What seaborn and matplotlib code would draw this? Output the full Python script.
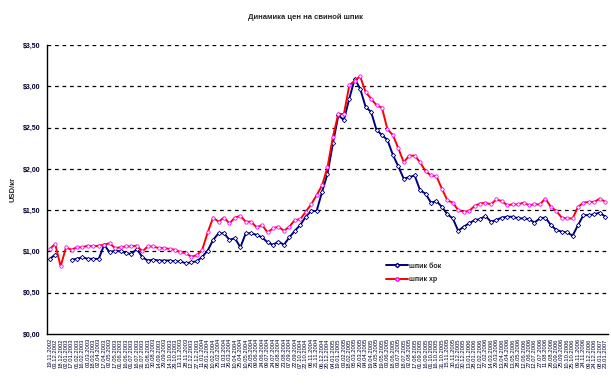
import numpy as np
import pandas as pd
import matplotlib
matplotlib.use("Agg")
import matplotlib.pyplot as plt
import seaborn as sns
from matplotlib.lines import Line2D

title = "Динамика цен на свиной шпик"
y_label = "USD/кг"
series_names = ["шпик бок", "шпик хр"]

bok = [0.91, 0.96, np.nan, np.nan, 0.90, 0.91, 0.93, 0.91, 0.91, 0.91,
       1.08, 0.99, 1.01, 1.00, 0.98, 0.97, 1.03, 0.93, 0.89, 0.90,
       0.89, 0.89, 0.89, 0.88, 0.88, 0.855, 0.87, 0.88, 0.935, 1.01,
       1.14, 1.22, 1.22, 1.14, 1.16, 1.05, 1.22, 1.22, 1.20, 1.17,
       1.11, 1.08, 1.12, 1.08, 1.17, 1.25, 1.32, 1.42, 1.49, 1.49,
       1.72, 1.94, 2.31, 2.65, 2.59, 2.85, 3.09, 2.97, 2.75, 2.69,
       2.47, 2.41, 2.35, 2.17, 2.03, 1.88, 1.90, 1.92, 1.74, 1.70,
       1.59, 1.61, 1.54, 1.45, 1.40, 1.25, 1.30, 1.34, 1.38, 1.39,
       1.43, 1.36, 1.38, 1.41, 1.42, 1.42, 1.40, 1.40, 1.39, 1.35,
       1.40, 1.41, 1.32, 1.26, 1.24, 1.23, 1.19, 1.32, 1.44, 1.44,
       1.45, 1.47, 1.42]

khr = [1.03, 1.09, 0.82, 1.05, 1.02, 1.05, 1.05, 1.07, 1.06, 1.07,
       1.08, 1.10, 1.04, 1.05, 1.06, 1.06, 1.07, 1.00, 1.06, 1.06,
       1.04, 1.04, 1.03, 1.02, 0.99, 0.98, 0.935, 0.955, 1.02, 1.23,
       1.41, 1.36, 1.41, 1.34, 1.41, 1.43, 1.36, 1.36, 1.29, 1.32,
       1.23, 1.28, 1.30, 1.25, 1.30, 1.38, 1.39, 1.48, 1.57, 1.68,
       1.80, 2.02, 2.39, 2.67, 2.66, 3.01, 3.07, 3.12, 2.93, 2.85,
       2.77, 2.74, 2.48, 2.41, 2.25, 2.08, 2.16, 2.16, 2.08, 1.97,
       1.92, 1.91, 1.76, 1.62, 1.59, 1.50, 1.48, 1.49, 1.55, 1.58,
       1.59, 1.57, 1.63, 1.61, 1.56, 1.57, 1.57, 1.59, 1.56, 1.57,
       1.57, 1.64, 1.54, 1.49, 1.41, 1.40, 1.40, 1.54, 1.59, 1.60,
       1.60, 1.64, 1.60]

date_labels = [d.strftime("%d.%m.%Y") for d in
               pd.date_range("2002-11-19", "2007-01-23", periods=len(khr))]
y_ticks = [0.0, 0.5, 1.0, 1.5, 2.0, 2.5, 3.0, 3.5]

sns.set_style("white")
plt.rcParams["font.family"] = ["Liberation Sans", "DejaVu Sans"]

n = len(khr)
idx = np.arange(n)
bok_arr = np.array(bok, dtype=float)
seg = np.cumsum(np.isnan(bok_arr))
df_bok = pd.DataFrame({"x": idx, "y": bok_arr, "seg": seg}).dropna()
df_khr = pd.DataFrame({"x": idx, "y": khr})

fig = plt.figure(figsize=(6.11, 3.87), dpi=100)
ax = fig.add_axes([47 / 611, 1 - 334 / 387, 561 / 611, 289 / 387])

for yv in y_ticks[1:]:
    ax.axhline(yv, color="black", lw=0.9, ls=(0, (3, 3)), zorder=1)

sns.lineplot(data=df_bok, x="x", y="y", units="seg", estimator=None, ax=ax,
             color="#000080", lw=1.4, marker="D", markersize=2.2,
             markerfacecolor="white", markeredgecolor="#000080",
             markeredgewidth=0.6, zorder=3)
sns.lineplot(data=df_khr, x="x", y="y", ax=ax,
             color="#FF0000", lw=1.4, marker="o", markersize=2.4,
             markerfacecolor="white", markeredgecolor="#FF00FF",
             markeredgewidth=0.6, zorder=4)

ax.set_xlim(-0.5, n - 0.5)
ax.set_ylim(0, 3.5)
ax.set_yticks(y_ticks)
ax.set_yticklabels([("$%.2f" % v).replace(".", ",") for v in y_ticks],
                   fontsize=5, fontweight="bold", color="#000033")
ax.set_xticks(idx)
ax.set_xticklabels(date_labels, rotation=90, fontsize=4.2, color="#000033")
ax.set_xticks(np.arange(n + 1) - 0.5, minor=True)
ax.tick_params(axis="x", which="major", length=0, pad=3)
ax.tick_params(axis="x", which="minor", length=3, width=0.8, color="black",
               direction="out")
ax.tick_params(axis="y", length=3, width=0.8, color="black", pad=2)
ax.set_xlabel("")
ax.set_ylabel(y_label, fontsize=5.5, fontweight="bold", labelpad=4)

for s in ["top", "right"]:
    ax.spines[s].set_visible(False)
for s in ["left", "bottom"]:
    ax.spines[s].set_color("black")
    ax.spines[s].set_linewidth(1.0)

fig.text(305 / 611, 1 - 17 / 387, title, ha="center", va="center",
         fontsize=5.5, fontweight="bold")

handles = [
    Line2D([], [], color="#000080", lw=1.4, marker="D", markersize=2.2,
           markerfacecolor="white", markeredgecolor="#000080"),
    Line2D([], [], color="#FF0000", lw=1.4, marker="o", markersize=2.4,
           markerfacecolor="white", markeredgecolor="#FF00FF"),
]
leg = ax.legend(handles, series_names, loc="upper left",
                bbox_to_anchor=(413 / 611 - 47 / 611, (334 - 260) / 289),
                bbox_transform=ax.transAxes, frameon=False, fontsize=5,
                handlelength=3.2, handletextpad=0.2, labelspacing=0.9,
                borderaxespad=0)
for t in leg.get_texts():
    t.set_fontweight("bold")

fig.savefig("out.png", dpi=100)
